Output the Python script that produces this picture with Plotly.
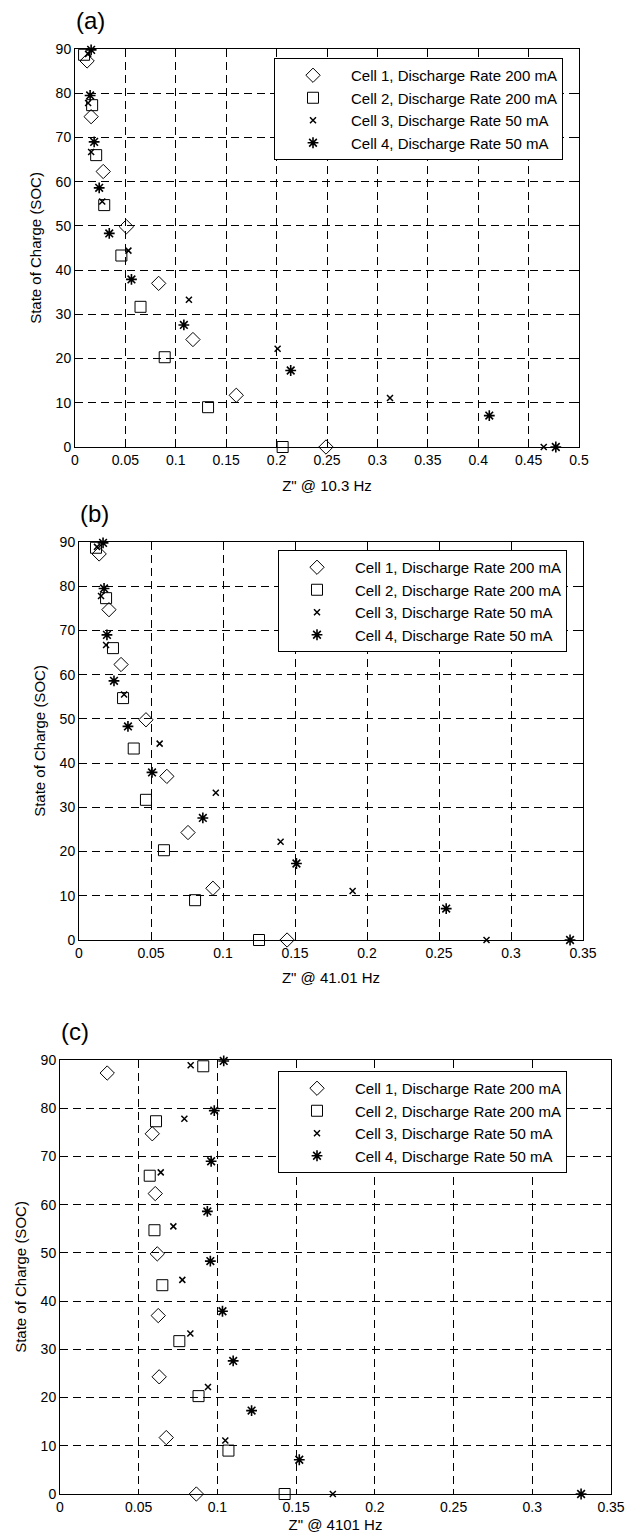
import plotly.graph_objects as go

# ---------------- data ----------------
series_names = [
    "Cell 1, Discharge Rate 200 mA",
    "Cell 2, Discharge Rate 200 mA",
    "Cell 3, Discharge Rate 50 mA",
    "Cell 4, Discharge Rate 50 mA",
]

# State of charge levels of each cell (same in all panels)
soc_cell1 = [87.3, 74.7, 62.3, 49.8, 37.0, 24.3, 11.7, 0.0]
soc_cell2 = [88.7, 77.3, 66.0, 54.7, 43.3, 31.7, 20.3, 9.0, 0.0]
soc_cell3 = [88.9, 77.8, 66.7, 55.5, 44.4, 33.3, 22.2, 11.1, 0.0]
soc_cell4 = [89.8, 79.5, 69.0, 58.6, 48.3, 37.9, 27.6, 17.3, 7.1, 0.0]

# (a) Z'' @ 10.3 Hz
a_cell1 = [0.012, 0.016, 0.028, 0.051, 0.083, 0.117, 0.160, 0.249]
a_cell2 = [0.009, 0.017, 0.021, 0.029, 0.046, 0.065, 0.089, 0.132, 0.206]
a_cell3 = [0.013, 0.013, 0.016, 0.027, 0.053, 0.113, 0.201, 0.3125, 0.465]
a_cell4 = [0.016, 0.015, 0.019, 0.024, 0.034, 0.056, 0.108, 0.214, 0.411, 0.477]

# (b) Z'' @ 41.01 Hz
b_cell1 = [0.014, 0.0208, 0.0292, 0.0465, 0.061, 0.0757, 0.093, 0.1445]
b_cell2 = [0.0118, 0.0188, 0.0236, 0.0306, 0.038, 0.0465, 0.059, 0.0806, 0.125]
b_cell3 = [0.0125, 0.0153, 0.0188, 0.0313, 0.056, 0.095, 0.140, 0.190, 0.283]
b_cell4 = [0.0167, 0.0174, 0.0194, 0.0243, 0.034, 0.0507, 0.086, 0.151, 0.255, 0.341]

# (c) Z'' @ 4101 Hz
c_cell1 = [0.030, 0.0586, 0.0605, 0.0618, 0.0624, 0.063, 0.0675, 0.0866]
c_cell2 = [0.091, 0.061, 0.057, 0.060, 0.065, 0.0758, 0.088, 0.107, 0.1427]
c_cell3 = [0.083, 0.079, 0.064, 0.072, 0.0777, 0.0828, 0.094, 0.105, 0.1733]
c_cell4 = [0.104, 0.098, 0.096, 0.0936, 0.0955, 0.1032, 0.110, 0.1217, 0.152, 0.331]

panel_labels = ["(a)", "(b)", "(c)"]
x_titles = ['Z" @ 10.3 Hz', 'Z" @ 41.01 Hz', 'Z" @ 4101 Hz']
y_title = "State of Charge (SOC)"
x_max = [0.5, 0.35, 0.35]
y_ticks = [0, 10, 20, 30, 40, 50, 60, 70, 80, 90]

# ---------------- layout geometry ----------------
W, H = 629, 1536
FONT = "Liberation Sans, Arial, sans-serif"
boxes = [  # left, right, top, bottom in pixels
    (75, 579, 49, 447),
    (79, 583, 542, 940),
    (60, 611, 1060, 1494),
]
x_title_standoff = [13, 12, 5]
legend_pos = [(274, 58), (278, 550), (278, 1071)]

marker_styles = [
    dict(symbol="diamond-open", size=11, color="black", line=dict(width=1, color="black")),
    dict(symbol="square-open", size=11, color="black", line=dict(width=1, color="black")),
    dict(symbol="x-thin-open", size=6, color="black", line=dict(width=1.5, color="black")),
    dict(symbol="asterisk-open", size=9, color="black", line=dict(width=1.6, color="black")),
]

panel_x = [
    [a_cell1, a_cell2, a_cell3, a_cell4],
    [b_cell1, b_cell2, b_cell3, b_cell4],
    [c_cell1, c_cell2, c_cell3, c_cell4],
]
socs = [soc_cell1, soc_cell2, soc_cell3, soc_cell4]

fig = go.Figure()
layout = dict(
    width=W, height=H,
    margin=dict(l=0, r=0, t=0, b=0, autoexpand=False),
    paper_bgcolor="white", plot_bgcolor="white",
    font=dict(family=FONT, size=14, color="black"),
    annotations=[],
)

for p in range(3):
    sfx = "" if p == 0 else str(p + 1)
    leg = "legend" if p == 0 else f"legend{p + 1}"
    l, r, t, b = boxes[p]
    for s in range(4):
        fig.add_trace(go.Scatter(
            x=panel_x[p][s], y=socs[s], mode="markers",
            name=series_names[s], marker=marker_styles[s],
            xaxis="x" + sfx, yaxis="y" + sfx, legend=leg,
            cliponaxis=False, showlegend=True,
        ))
    axis_common = dict(
        showline=True, linecolor="black", linewidth=1, mirror="ticks",
        ticks="inside", ticklen=5, tickcolor="black", tickwidth=1,
        showgrid=True, gridcolor="black", gridwidth=1, griddash="8px,5px",
        zeroline=False, automargin=False,
        tickfont=dict(family=FONT, size=14, color="black"),
    )
    layout["xaxis" + sfx] = dict(
        axis_common, domain=[l / W, r / W], range=[0, x_max[p]], dtick=0.05,
        anchor="y" + sfx,
        title=dict(text=x_titles[p], font=dict(family=FONT, size=15),
                   standoff=x_title_standoff[p]),
    )
    layout["yaxis" + sfx] = dict(
        axis_common, domain=[1 - b / H, 1 - t / H], range=[0, 90],
        tickvals=y_ticks, anchor="x" + sfx,
        title=dict(text=y_title, font=dict(family=FONT, size=15), standoff=10),
    )
    lx, ly = legend_pos[p]
    layout[leg] = dict(
        x=lx / W, y=1 - ly / H, xanchor="left", yanchor="top",
        bgcolor="white", bordercolor="black", borderwidth=1,
        font=dict(family=FONT, size=15, color="black"),
        itemwidth=66, tracegroupgap=0,
    )
    layout["annotations"].append(dict(
        text=panel_labels[p], xref="paper", yref="paper",
        x=(l - 1) / W, y=1 - (t - 13) / H, xanchor="left", yanchor="bottom",
        showarrow=False, font=dict(family=FONT, size=24, color="black"),
    ))

fig.update_layout(**layout)
fig.write_html(
    "out.html",
    config={"displayModeBar": False},
    post_script="document.body.style.margin='0px';",
)
